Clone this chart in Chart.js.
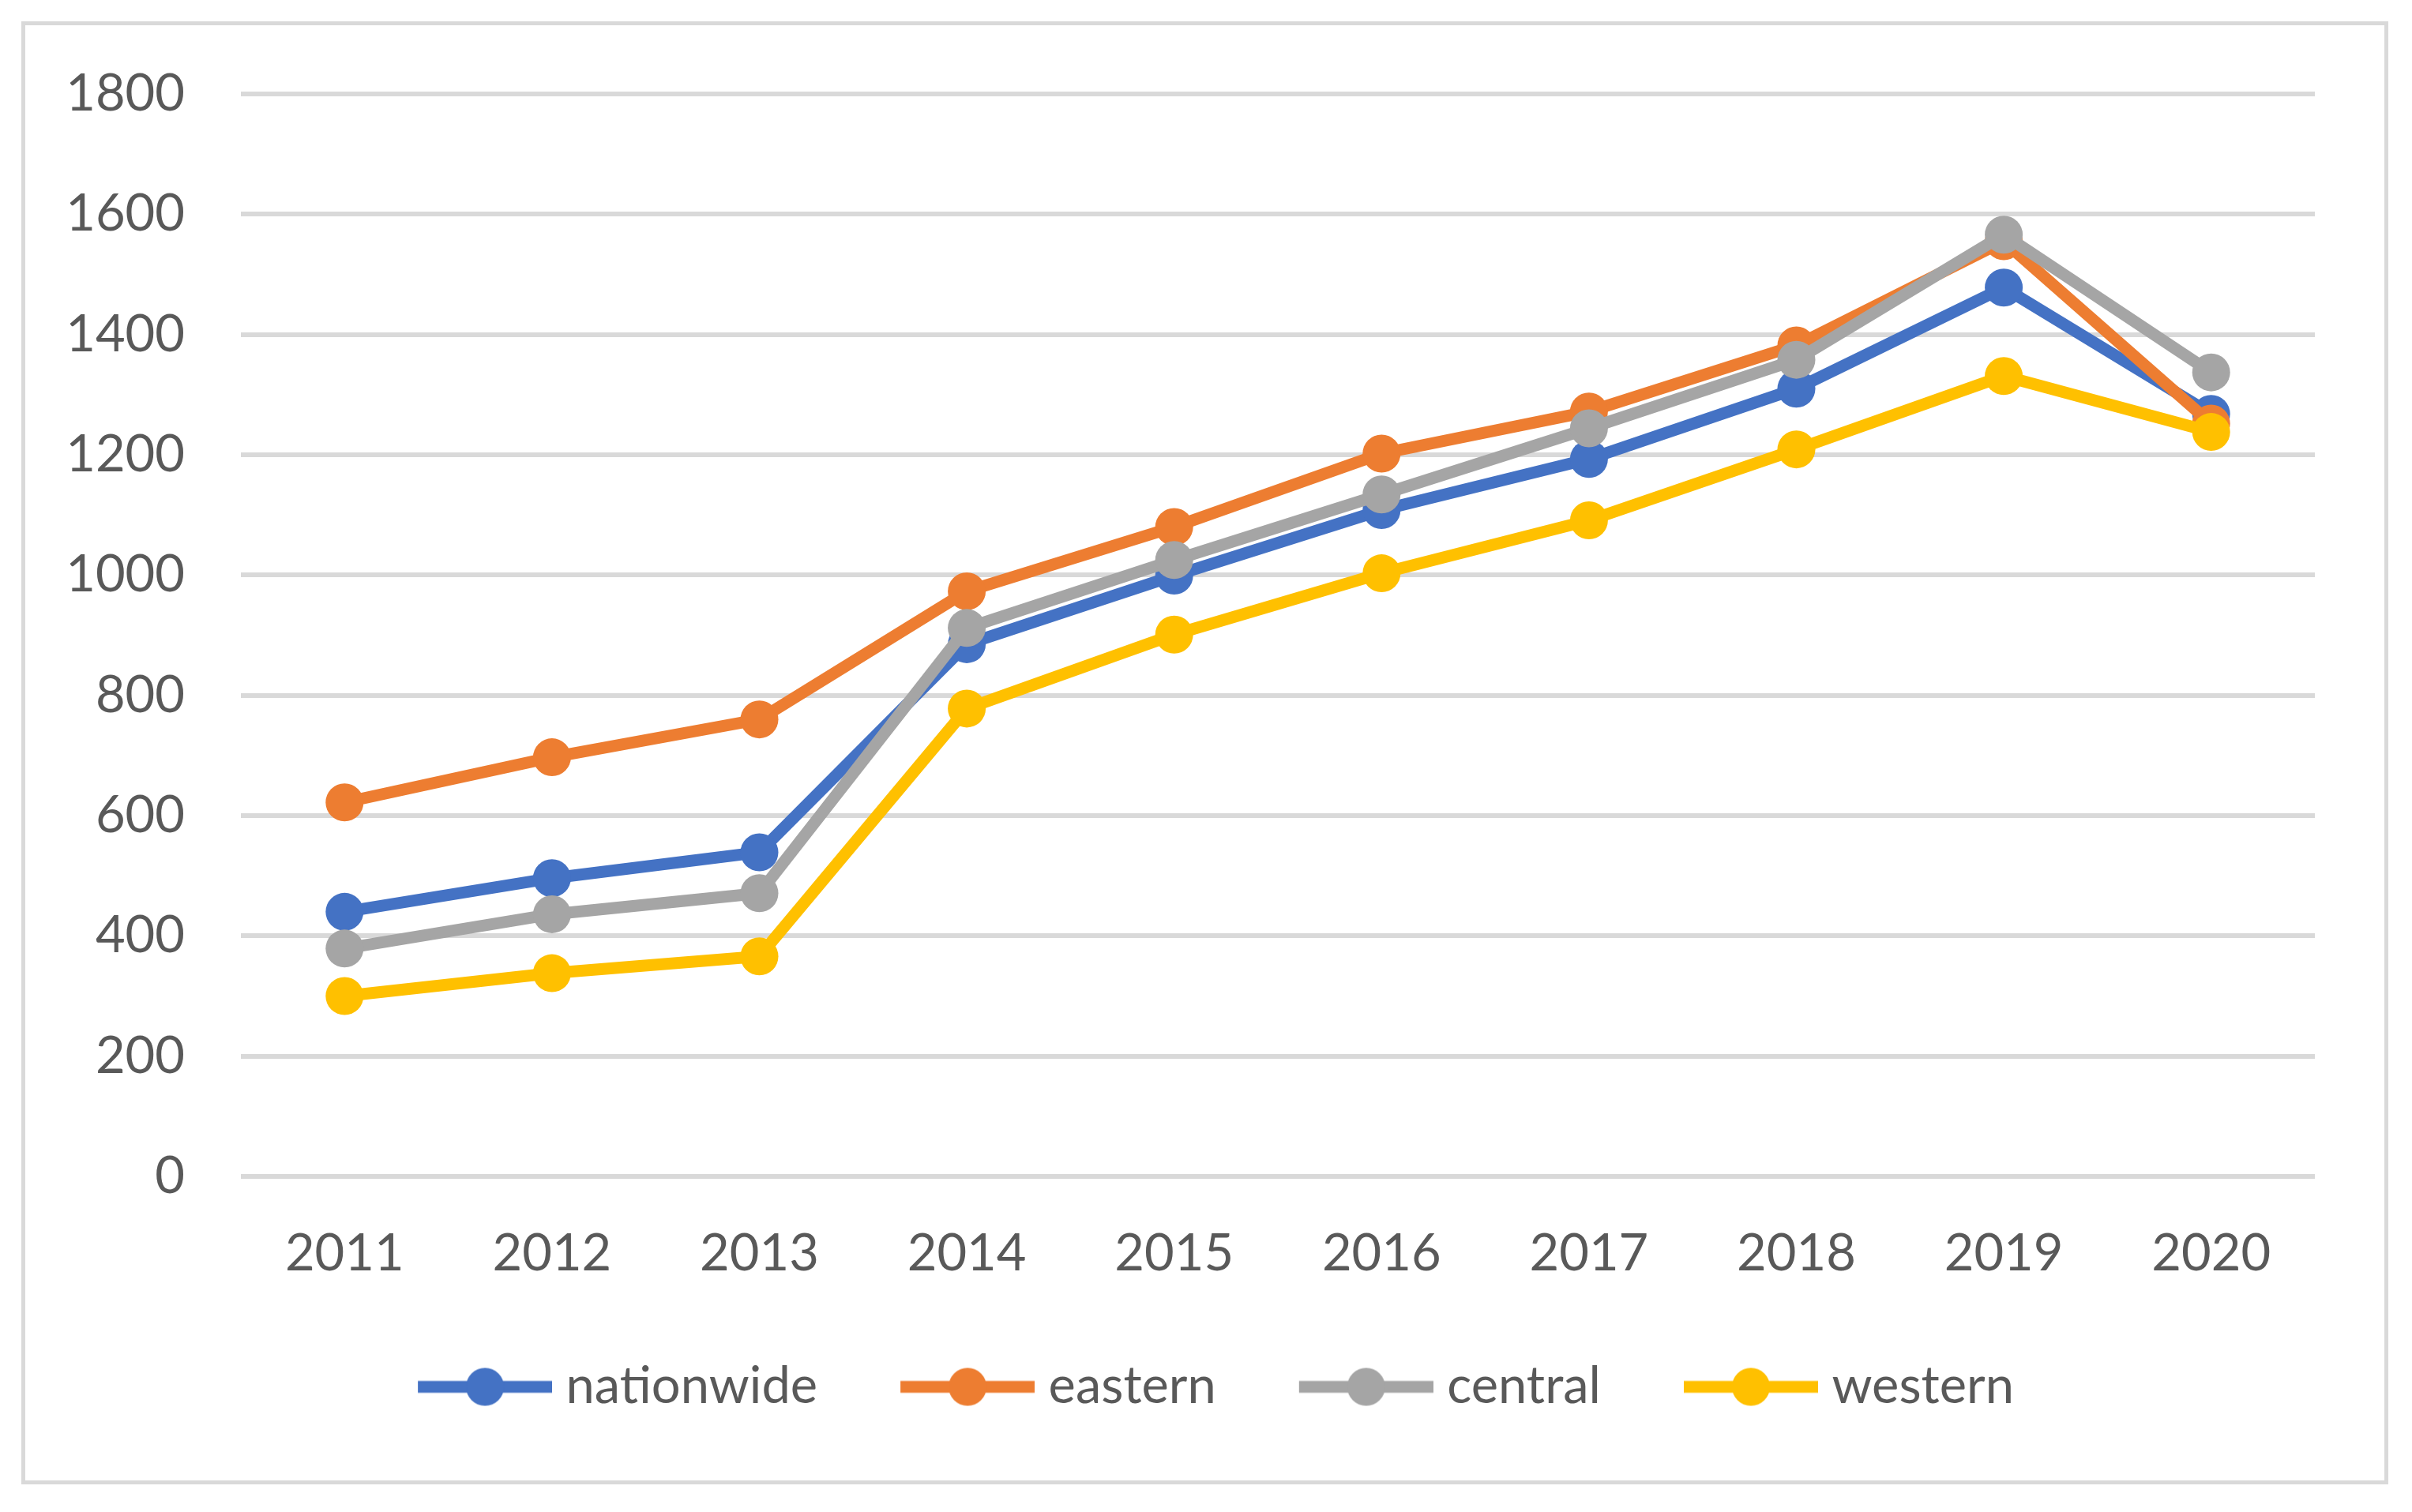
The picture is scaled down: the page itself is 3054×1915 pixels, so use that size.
<!DOCTYPE html>
<html>
<head>
<meta charset="utf-8">
<script src="https://cdn.jsdelivr.net/npm/chart.js@4/dist/chart.umd.min.js"></script>
<style>
  html, body { margin: 0; padding: 0; background: #fff; }
  #wrap { position: relative; width: 3054px; height: 1915px; }
  #frame {
    position: absolute; left: 27px; top: 27px; width: 2997px; height: 1853px;
    border: 5px solid #d9d9d9; box-sizing: border-box; pointer-events: none;
  }
</style>
</head>
<body>
<div id="wrap">
  <canvas id="chart" width="3054" height="1915"></canvas>
  <div id="frame"></div>
</div>
<script>
// years on the x axis
const years = ["2011", "2012", "2013", "2014", "2015", "2016", "2017", "2018", "2019", "2020"];

// values
const nationwide = [440, 496, 539, 885, 999, 1108, 1193, 1310, 1478, 1268];
const eastern = [622, 697, 760, 973, 1080, 1202, 1272, 1382, 1555, 1252];
const central = [379, 436, 471, 912, 1025, 1134, 1244, 1358, 1566, 1337];
const western = [300, 338, 366, 778, 901, 1003, 1091, 1209, 1331, 1238];

const yTicks = [0, 200, 400, 600, 800, 1000, 1200, 1400, 1600, 1800];

const seriesNames = ["nationwide", "eastern", "central", "western"];
const seriesColors = ["#4472C4", "#ED7D31", "#A5A5A5", "#FFC000"];
const seriesData = [nationwide, eastern, central, western];

const font = "Lato";
const textColor = "#595959";

// legend icon: a line with a dot, like the Excel legend
function legendIcon(color) {
  const c = document.createElement("canvas");
  c.width = 250;
  c.height = 50;
  const g = c.getContext("2d");
  g.strokeStyle = color;
  g.lineWidth = 15;
  g.beginPath();
  g.moveTo(80, 25);
  g.lineTo(250, 25);
  g.stroke();
  g.fillStyle = color;
  g.beginPath();
  g.arc(165, 25, 24, 0, Math.PI * 2);
  g.fill();
  return c;
}

const datasets = seriesNames.map((name, i) => ({
  label: name,
  data: seriesData[i],
  borderColor: seriesColors[i],
  backgroundColor: seriesColors[i],
  borderWidth: 15,
  pointRadius: 24,
  pointHoverRadius: 24,
  pointBorderWidth: 0,
  pointBackgroundColor: seriesColors[i],
  tension: 0,
  order: seriesNames.length - 1 - i // later series on top, as in Excel
}));

const ctx = document.getElementById("chart").getContext("2d");
new Chart(ctx, {
  type: "line",
  data: { labels: years, datasets: datasets },
  options: {
    responsive: false,
    devicePixelRatio: 1,
    animation: false,
    layout: { padding: { left: 83, right: 123, top: 119, bottom: 116 } },
    scales: {
      x: {
        offset: true,
        grid: { display: false, drawTicks: false },
        border: { display: false },
        ticks: { color: textColor, font: { family: font, size: 65 }, padding: 59 },
        afterFit: (scale) => { scale.height = 194; }
      },
      y: {
        min: 0,
        max: 1800,
        afterBuildTicks: (scale) => { scale.ticks = yTicks.map(v => ({ value: v })); },
        grid: { color: "#d9d9d9", lineWidth: 6, drawTicks: false },
        border: { display: false },
        ticks: {
          color: textColor,
          font: { family: font, size: 65 },
          padding: 71,
          callback: (v) => String(v)
        },
        afterFit: (scale) => { scale.width = 222; }
      }
    },
    plugins: {
      tooltip: { enabled: false },
      legend: {
        position: "bottom",
        labels: {
          color: textColor,
          font: { family: font, size: 65 },
          usePointStyle: true,
          pointStyleWidth: 220,
          padding: 40,
          sort: (a, b) => a.datasetIndex - b.datasetIndex,
          generateLabels: (chart) => {
            const items = Chart.defaults.plugins.legend.labels.generateLabels(chart);
            items.forEach(it => { it.pointStyle = legendIcon(seriesColors[it.datasetIndex]); });
            return items;
          }
        }
      }
    }
  }
});
</script>
</body>
</html>
